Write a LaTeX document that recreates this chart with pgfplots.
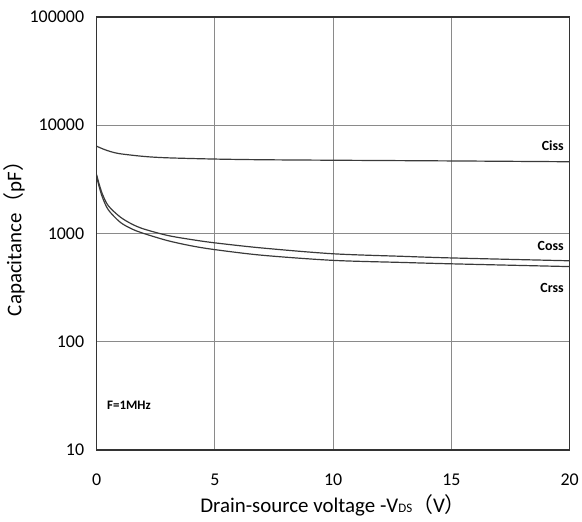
\documentclass[border=0pt]{standalone}
\usepackage{fontspec}
\setmainfont{Carlito}
\newfontfamily\cjk{Noto Sans CJK SC}
\usepackage{pgfplots}
\pgfplotsset{compat=1.18}

\definecolor{gridgray}{HTML}{8A8A8A}
\definecolor{curve}{HTML}{3A3A3A}

\begin{document}
\begin{tikzpicture}
\begin{semilogyaxis}[
    scale only axis,
    width=475pt, height=435pt,
    xmin=0, xmax=20, ymin=10, ymax=100000,
    xtick={0,5,10,15,20},
    ytick={10,100,1000,10000,100000},
    yticklabels={10,100,1000,10000,100000},
    minor ytick={},
    grid=major,
    major grid style={gridgray, line width=1pt},
    axis line style={black!80, line width=1.4pt},
    tick style={draw=none},
    /pgf/number format/assume math mode=true,
    tick label style={font=\fontsize{18}{18}\selectfont},
    xticklabel style={yshift=-20pt},
    yticklabel style={xshift=-9pt},
    xlabel={Drain-source voltage -V{\fontsize{13}{13}\selectfont DS}{\cjk （}V{\cjk ）}},
    ylabel={Capacitance{\cjk （}pF{\cjk ）}},
    label style={font=\fontsize{21}{21}\selectfont},
    xlabel style={yshift=-2pt},
    ylabel style={yshift=-2pt},
]
% Ciss
\addplot[curve, line width=1.2pt, smooth] coordinates
  {(0,6400) (0.3,6000) (0.6,5700) (1,5450) (2,5150) (3,5000) (5,4870) (7,4800) (10,4750) (15,4680) (20,4600)};
% Coss
\addplot[curve, line width=1.2pt, smooth] coordinates
  {(0,3500) (0.1,2900) (0.25,2300) (0.5,1800) (1,1420) (1.5,1220) (2,1100) (3,960) (4,880) (5,820) (7,735) (10,650) (13,615) (15,595) (20,560)};
% Crss
\addplot[curve, line width=1.2pt, smooth] coordinates
  {(0,3400) (0.1,2750) (0.25,2150) (0.5,1650) (1,1270) (1.5,1100) (2,1000) (3,860) (4,770) (5,710) (7,630) (10,565) (13,540) (15,525) (20,495)};

\node[anchor=east, font=\fontsize{14}{14}\selectfont\bfseries] at (axis cs:19.9,6500) {Ciss};
\node[anchor=east, font=\fontsize{14}{14}\selectfont\bfseries] at (axis cs:19.9,770) {Coss};
\node[anchor=east, font=\fontsize{14}{14}\selectfont\bfseries] at (axis cs:19.9,315) {Crss};
\node[anchor=west, font=\fontsize{13}{13}\selectfont\bfseries] at (axis cs:0.3,26) {F=1MHz};
\end{semilogyaxis}
\path (-97pt,-72pt) rectangle (485pt,452pt);
\end{tikzpicture}
\end{document}
